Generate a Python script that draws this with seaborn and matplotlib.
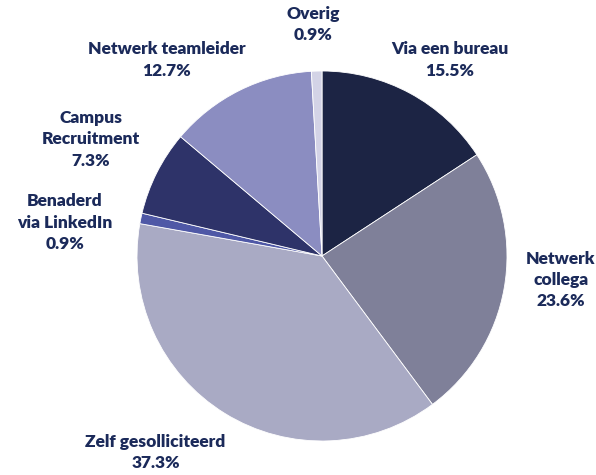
import matplotlib
matplotlib.use("Agg")
import matplotlib.pyplot as plt
import seaborn as sns

# slices, clockwise from the top
categories = ["Via een bureau", "Netwerk\ncollega", "Zelf gesolliciteerd",
              "Benaderd\nvia LinkedIn", "Campus\nRecruitment",
              "Netwerk teamleider", "Overig"]
values = [15.5, 23.6, 37.3, 0.9, 7.3, 12.7, 0.9]
colors = ["#1c2444", "#7f8099", "#a9aac4", "#4f58a6", "#2e3369", "#8b8dc1", "#d3d3e6"]

# label centres (pie data units, radius = 1)
label_pos = [(0.69, 1.06), (1.29, -0.13), (-0.90, -1.06), (-1.39, 0.18),
             (-1.25, 0.63), (-0.84, 1.06), (-0.05, 1.25)]

sns.set_theme(style="white")
plt.rcParams['font.family'] = ['Lato', 'DejaVu Sans']
text_color = "#1b2a5a"

W, H = 596, 475
cx, cy, r = 322, 256, 185
fig = plt.figure(figsize=(W / 100, H / 100), dpi=100)
ax = fig.add_axes([(cx - r) / W, (H - cy - r) / H, 2 * r / W, 2 * r / H])

palette = sns.color_palette(colors)
ax.pie(values, colors=palette, startangle=90, counterclock=False, radius=1,
       wedgeprops=dict(edgecolor="white", linewidth=0.6))
ax.set_xlim(-1, 1)
ax.set_ylim(-1, 1)
ax.set_aspect("equal")
ax.axis("off")

for cat, val, (x, y) in zip(categories, values, label_pos):
    ax.text(x, y, f"{cat}\n{val:.1f}%", ha="center", va="center",
            multialignment="center", fontsize=12.5, fontweight="heavy",
            color=text_color, linespacing=1.4, clip_on=False)

fig.savefig("out.png", dpi=100)
